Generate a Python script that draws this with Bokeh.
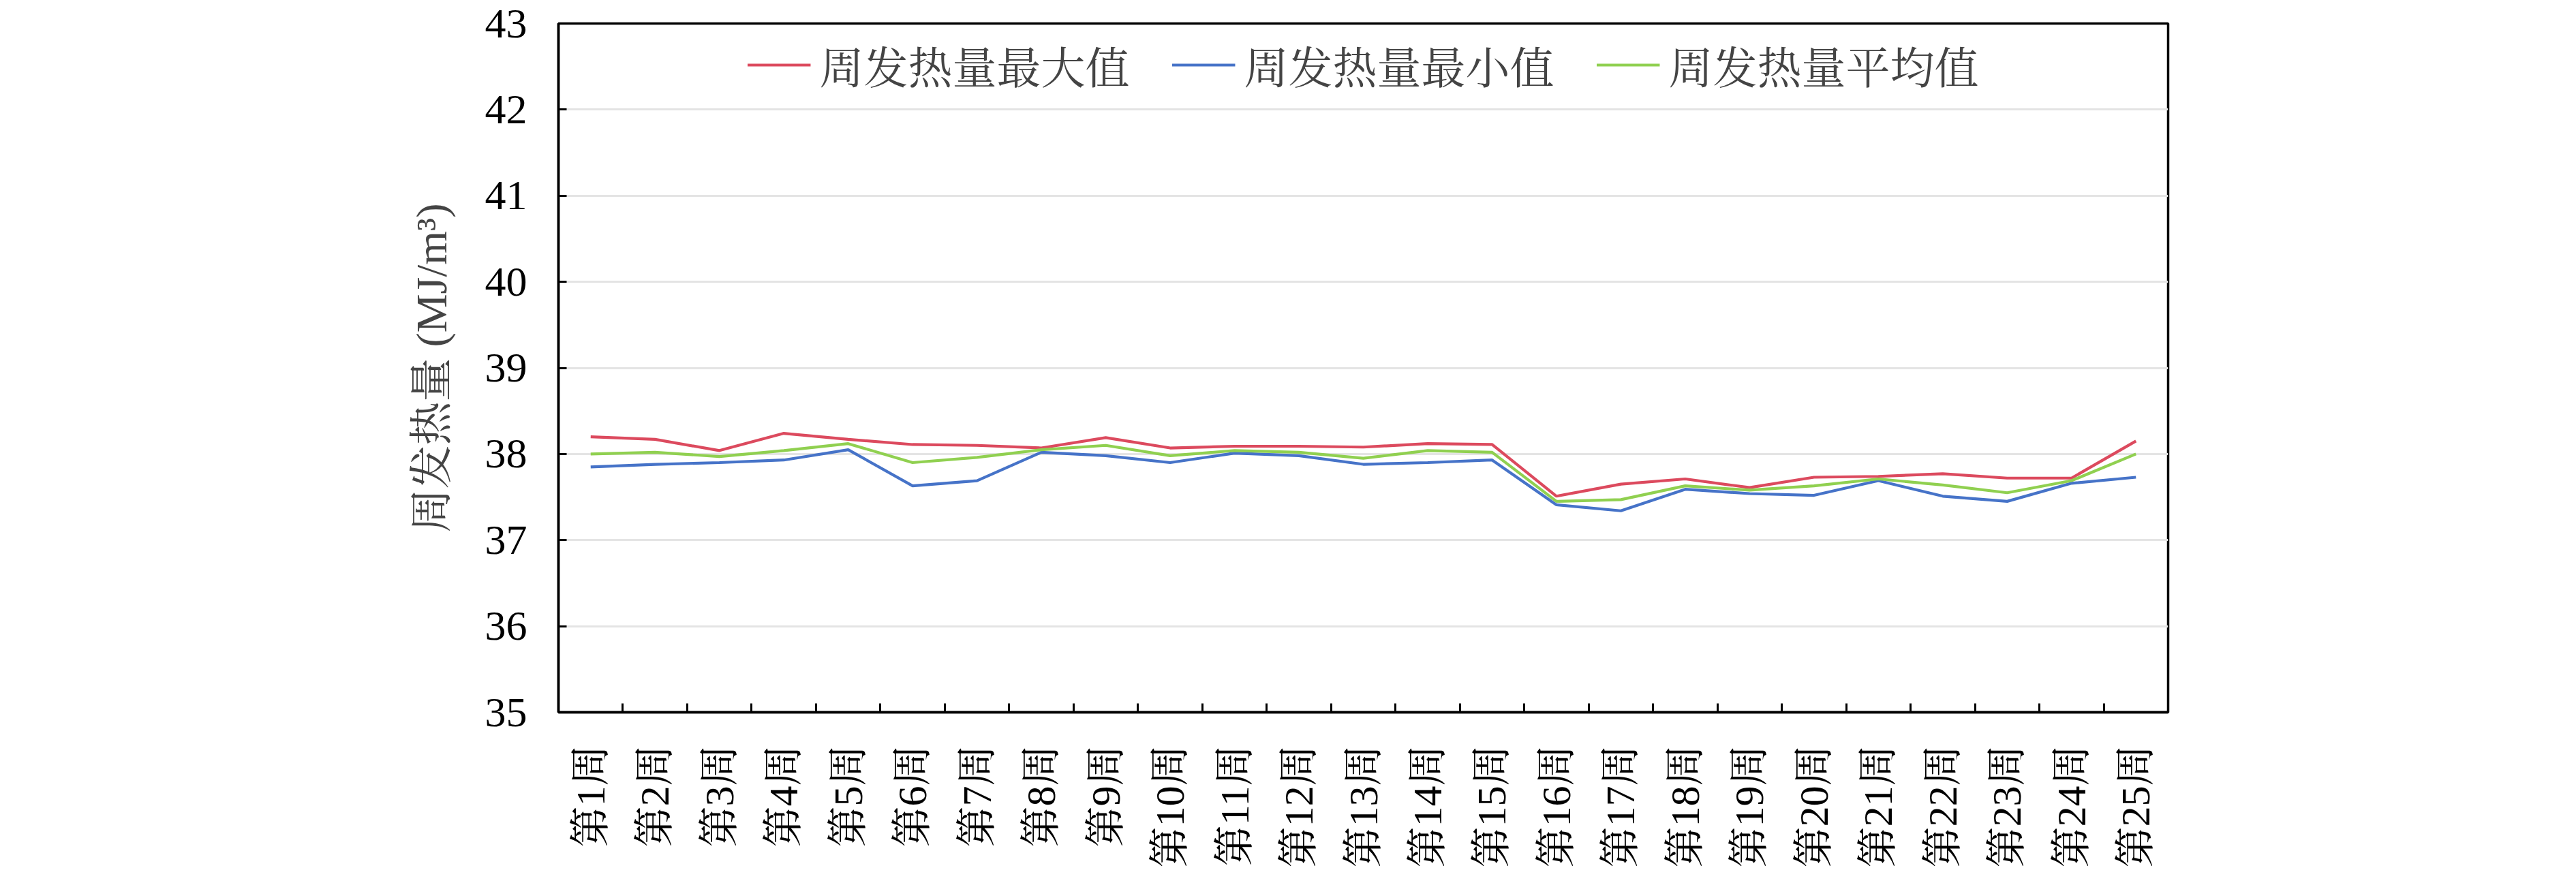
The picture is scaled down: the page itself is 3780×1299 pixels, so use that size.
import math

from bokeh.embed import file_html
from bokeh.models import FixedTicker, Legend, LegendItem, Range1d
from bokeh.plotting import figure
from bokeh.resources import INLINE

# weekly calorific value, MJ/m3
weeks = [f"第{i}周" for i in range(1, 26)]
max_vals = [38.20, 38.17, 38.04, 38.24, 38.17, 38.11, 38.10, 38.07, 38.19, 38.07,
            38.09, 38.09, 38.08, 38.12, 38.11, 37.51, 37.65, 37.71, 37.61, 37.73,
            37.74, 37.77, 37.72, 37.72, 38.15]
min_vals = [37.85, 37.88, 37.90, 37.93, 38.05, 37.63, 37.69, 38.02, 37.98, 37.90,
            38.01, 37.98, 37.88, 37.90, 37.93, 37.41, 37.34, 37.59, 37.54, 37.52,
            37.69, 37.51, 37.45, 37.66, 37.73]
avg_vals = [38.00, 38.02, 37.97, 38.04, 38.12, 37.90, 37.96, 38.05, 38.10, 37.98,
            38.04, 38.02, 37.95, 38.04, 38.02, 37.45, 37.47, 37.63, 37.58, 37.63,
            37.71, 37.64, 37.55, 37.69, 38.00]
y_ticks = [35, 36, 37, 38, 39, 40, 41, 42, 43]

FONT = "Liberation Serif, Noto Serif CJK SC, Noto Sans CJK SC"
x = list(range(1, len(weeks) + 1))

p = figure(width=3764, height=1283,
           x_range=Range1d(0.5, len(weeks) + 0.5), y_range=Range1d(35, 43),
           output_backend="svg", toolbar_location=None,
           min_border_left=819, min_border_right=583,
           min_border_top=34, min_border_bottom=238)

p.outline_line_color = "black"
p.outline_line_width = 3.5
p.xgrid.grid_line_color = None
p.ygrid.grid_line_color = "#e4e4e4"
p.ygrid.grid_line_width = 3

r_max = p.line(x, max_vals, line_color="#dc4a5e", line_width=4.2)
r_min = p.line(x, min_vals, line_color="#4673c8", line_width=4.2)
r_avg = p.line(x, avg_vals, line_color="#90d050", line_width=4.2)

# x axis: labels at category centres, ticks between categories
p.xaxis.ticker = FixedTicker(ticks=x, minor_ticks=[i + 0.5 for i in x[:-1]])
p.xaxis.major_label_overrides = {i: w for i, w in zip(x, weeks)}
p.xaxis.major_label_orientation = math.pi / 2
p.xaxis.major_tick_in = 0
p.xaxis.major_tick_out = 0
p.xaxis.minor_tick_in = 13
p.xaxis.minor_tick_out = 0
p.xaxis.minor_tick_line_color = "black"
p.xaxis.minor_tick_line_width = 3
p.xaxis.major_label_standoff = 48
p.xaxis.major_label_text_font = FONT
p.xaxis.major_label_text_font_size = "60px"

p.yaxis.ticker = FixedTicker(ticks=y_ticks)
p.yaxis.major_tick_in = 12
p.yaxis.major_tick_out = 0
p.yaxis.major_tick_line_width = 3
p.yaxis.minor_tick_line_color = None
p.yaxis.major_label_standoff = 46
p.yaxis.major_label_text_font = FONT
p.yaxis.major_label_text_font_size = "62px"
p.yaxis.axis_label = "周发热量 (MJ/m³)"
p.yaxis.axis_label_text_font = FONT
p.yaxis.axis_label_text_font_size = "64px"
p.yaxis.axis_label_text_font_style = "normal"
p.yaxis.axis_label_standoff = 40

for ax in (p.xaxis, p.yaxis):
    ax.axis_line_color = "black"
    ax.axis_line_width = 3.5
    ax.major_tick_line_color = "black"
    ax.major_label_text_color = "black"

legend = Legend(items=[
    LegendItem(label="周发热量最大值", renderers=[r_max]),
    LegendItem(label="周发热量最小值", renderers=[r_min]),
    LegendItem(label="周发热量平均值", renderers=[r_avg]),
], location="top_center", orientation="horizontal")
legend.label_text_font = FONT
legend.label_text_font_size = "65px"
legend.glyph_width = 93
legend.glyph_height = 40
legend.spacing = 62
legend.label_standoff = 13
legend.border_line_color = None
legend.background_fill_alpha = 0
legend.margin = 14
legend.padding = 10
p.add_layout(legend)

open("out.html", "w").write(file_html(p, INLINE))
